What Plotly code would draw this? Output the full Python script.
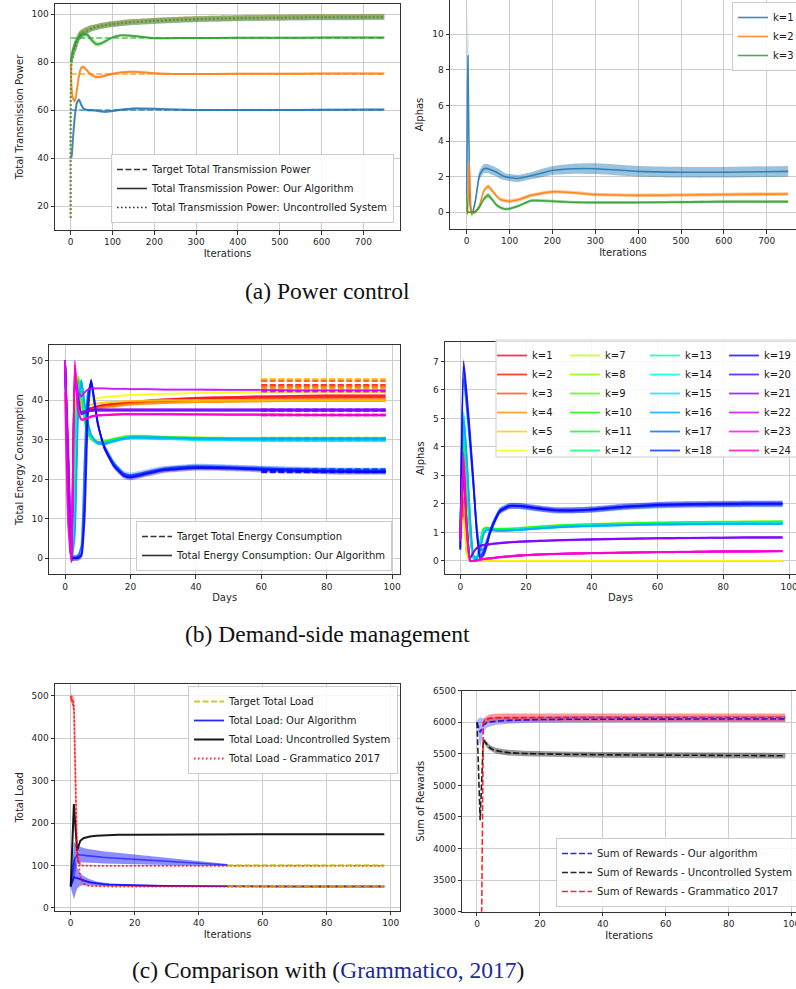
import plotly.graph_objects as go

# ======================= (a) Power control =======================
IT_POWER = [0, 2, 5, 10, 15, 20, 25, 30, 40, 50, 60, 70, 80, 90, 100, 120, 150, 200, 250, 300, 400, 500, 600, 750]
TARGET_POWER = [60, 75, 90]
POWER_OURS_K1 = [40, 40.5, 47, 57.5, 63, 64.3, 62.3, 60.8, 60.0, 59.9, 59.8, 59.5, 59.3, 59.4, 59.6, 60.1, 60.6, 60.5, 60.2, 60.0, 60.0, 60.0, 60.1, 60.2]
POWER_OURS_K2 = [79, 70, 65, 63.8, 68.5, 74.5, 77.5, 78.0, 76.3, 74.6, 73.8, 73.8, 74.2, 74.7, 75.1, 75.7, 76.0, 75.3, 75.0, 75.0, 75.1, 75.1, 75.2, 75.2]
POWER_OURS_K3 = [80, 82.5, 85, 87.5, 89.5, 90.5, 91.2, 91.6, 91.3, 89.2, 87.6, 87.6, 88.4, 89.4, 90.3, 91.2, 90.9, 89.9, 90.0, 90.0, 90.1, 90.1, 90.2, 90.2]
POWER_OURS_SPREAD_K1 = [0.5, 0.6, 0.8, 0.8, 0.7, 0.7, 0.6, 0.5, 0.5, 0.5, 0.5, 0.5, 0.5, 0.5, 0.5, 0.5, 0.5, 0.5, 0.4, 0.4, 0.4, 0.4, 0.4, 0.4]
POWER_OURS_SPREAD_K2 = [0.8, 1.2, 1.2, 1.0, 0.9, 0.8, 0.8, 0.7, 0.7, 0.7, 0.7, 0.6, 0.6, 0.6, 0.5, 0.5, 0.5, 0.5, 0.4, 0.4, 0.4, 0.4, 0.4, 0.4]
POWER_OURS_SPREAD_K3 = [1.0, 1.5, 2.0, 2.0, 2.0, 1.8, 1.5, 1.3, 1.2, 1.2, 1.2, 1.0, 0.8, 0.6, 0.5, 0.5, 0.5, 0.4, 0.4, 0.4, 0.4, 0.4, 0.4, 0.4]
POWER_UNCONTROLLED_K1 = [15, 79.8, 82.8, 85.8, 87.8, 90.6, 91.6, 92.3, 93.2, 94.0, 94.5, 94.9, 95.2, 95.5, 95.7, 96.1, 96.6, 97.1, 97.5, 97.8, 98.2, 98.4, 98.6, 98.7]
POWER_UNCONTROLLED_K2 = [15, 80.1, 83.1, 86.1, 88.1, 90.9, 91.9, 92.5, 93.4, 94.2, 94.7, 95.1, 95.4, 95.7, 95.9, 96.3, 96.8, 97.3, 97.7, 98.0, 98.4, 98.6, 98.8, 98.9]
POWER_UNCONTROLLED_K3 = [15, 80.0, 83.0, 86.0, 88.0, 90.8, 91.8, 92.4, 93.3, 94.1, 94.6, 95.0, 95.3, 95.6, 95.8, 96.2, 96.7, 97.2, 97.6, 97.9, 98.3, 98.5, 98.7, 98.8]
POWER_UNCONTROLLED_SPREAD = [0.5, 2.5, 2.5, 2.4, 2.2, 1.9, 1.7, 1.6, 1.4, 1.3, 1.2, 1.2, 1.2, 1.2, 1.2, 1.2, 1.2, 1.2, 1.2, 1.2, 1.2, 1.2, 1.2, 1.2]

IT_POWER_ALPHA = [0, 1, 2, 3, 4, 6, 8, 12, 20, 30, 40, 50, 60, 70, 80, 90, 100, 120, 150, 200, 250, 300, 400, 500, 600, 750]
ALPHA_POWER_K1 = [1.0, 4.0, 7.0, 8.8, 6.5, 2.5, 0.4, -0.1, 0.6, 2.1, 2.45, 2.45, 2.35, 2.25, 2.1, 2.0, 1.95, 1.9, 2.05, 2.35, 2.45, 2.45, 2.3, 2.25, 2.25, 2.3]
ALPHA_POWER_K2 = [0.3, -0.1, 0.0, 0.5, 1.5, 2.8, 1.2, -0.05, 0.0, 0.4, 1.2, 1.45, 1.2, 0.9, 0.7, 0.65, 0.62, 0.7, 0.95, 1.15, 1.1, 1.0, 0.95, 0.97, 1.0, 1.03]
ALPHA_POWER_K3 = [1.0, 0.3, 0.0, 0.0, 0.0, 0.0, 0.0, 0.0, 0.05, 0.3, 0.75, 0.95, 0.7, 0.4, 0.25, 0.18, 0.2, 0.35, 0.65, 0.62, 0.56, 0.55, 0.55, 0.57, 0.6, 0.6]
ALPHA_POWER_SPREAD_K1 = [0.1, 0.8, 1.8, 2.5, 1.5, 0.6, 0.2, 0.15, 0.2, 0.25, 0.25, 0.25, 0.25, 0.25, 0.25, 0.2, 0.2, 0.2, 0.2, 0.25, 0.28, 0.3, 0.3, 0.3, 0.3, 0.3]
ALPHA_POWER_SPREAD_K2 = [0.1, 0.2, 0.1, 0.2, 0.3, 0.3, 0.2, 0.1, 0.1, 0.1, 0.12, 0.12, 0.12, 0.1, 0.1, 0.1, 0.1, 0.1, 0.1, 0.1, 0.1, 0.1, 0.1, 0.1, 0.1, 0.1]
ALPHA_POWER_SPREAD_K3 = [0.05, 0.05, 0.05, 0.05, 0.05, 0.05, 0.05, 0.05, 0.08, 0.1, 0.12, 0.15, 0.12, 0.1, 0.08, 0.08, 0.08, 0.08, 0.08, 0.08, 0.08, 0.08, 0.08, 0.08, 0.08, 0.08]

# ======================= (b) Demand-side management =======================
DAYS = [0, 1, 2, 3, 4, 5, 6, 7, 8, 9, 10, 12, 15, 18, 20, 25, 30, 40, 50, 60, 70, 80, 90, 98]
TARGET_DAYS = [60, 98]
ENERGY_K1 = [50, 25, 0, 28, 45, 40, 37.5, 37.8, 38.0, 38.3, 38.5, 38.8, 39.1, 39.4, 39.6, 39.9, 40.2, 40.6, 40.8, 41.0, 41.1, 41.2, 41.2, 41.2]
ENERGY_K2 = [50, 24, -0.5, 30, 44, 39.5, 37.6, 37.8, 38.0, 38.2, 38.4, 38.7, 39.0, 39.3, 39.5, 39.8, 40.0, 40.3, 40.5, 40.6, 40.7, 40.8, 40.8, 40.8]
ENERGY_K3 = [50, 23, -1, 31, 43, 39, 37.2, 37.4, 37.6, 37.9, 38.1, 38.4, 38.7, 39.0, 39.2, 39.5, 39.7, 40.0, 40.1, 40.2, 40.3, 40.3, 40.3, 40.3]
ENERGY_K4 = [50, 22, -1, 30, 42, 38.5, 37.0, 37.2, 37.4, 37.6, 37.8, 38.1, 38.4, 38.7, 38.9, 39.1, 39.3, 39.5, 39.6, 39.7, 39.8, 39.8, 39.8, 39.8]
ENERGY_K5 = [50, 24, -0.5, 31, 44, 40, 38.5, 38.7, 38.9, 39.1, 39.2, 39.4, 39.6, 39.7, 39.8, 39.9, 40.0, 40.0, 40.0, 40.0, 40.0, 40.0, 40.0, 40.0]
ENERGY_K6 = [50, 26, 0, 32, 46, 41, 39.5, 39.8, 40.0, 40.3, 40.5, 40.8, 41.0, 41.2, 41.3, 41.5, 41.6, 41.8, 41.9, 42.0, 42.0, 42.0, 42.0, 42.0]
ENERGY_K7 = [50, 21, 0, 24, 46, 40, 34.5, 31.2, 30.1, 29.6, 29.4, 29.5, 30.2, 30.7, 30.9, 30.9, 30.7, 30.5, 30.4, 30.4, 30.4, 30.4, 30.4, 30.4]
ENERGY_K8 = [50, 21, 0, 22, 46, 40.5, 34.8, 31.4, 30.2, 29.6, 29.3, 29.4, 30.1, 30.6, 30.8, 30.8, 30.6, 30.4, 30.3, 30.3, 30.3, 30.3, 30.3, 30.3]
ENERGY_K9 = [50, 20, 0, 20, 46, 41, 35, 31.5, 30.2, 29.6, 29.3, 29.4, 30.1, 30.6, 30.8, 30.8, 30.6, 30.4, 30.3, 30.3, 30.3, 30.3, 30.3, 30.3]
ENERGY_K10 = [50, 20, 0, 18, 45, 42, 35.5, 32, 30.5, 29.8, 29.4, 29.5, 30.1, 30.6, 30.7, 30.7, 30.5, 30.3, 30.2, 30.2, 30.2, 30.2, 30.2, 30.2]
ENERGY_K11 = [50, 19, 0, 16, 44, 43, 36, 32.5, 30.6, 29.8, 29.3, 29.3, 29.9, 30.4, 30.6, 30.6, 30.4, 30.2, 30.1, 30.0, 30.0, 30.0, 30.0, 30.0]
ENERGY_K12 = [50, 19, -0.5, 14, 43, 44, 37, 33, 30.8, 29.8, 29.2, 29.2, 29.8, 30.3, 30.5, 30.5, 30.3, 30.1, 30.0, 29.9, 29.9, 29.9, 29.9, 29.9]
ENERGY_K13 = [50, 18, -0.5, 12, 42, 44.5, 37.5, 33, 30.6, 29.6, 29.1, 29.1, 29.8, 30.4, 30.6, 30.6, 30.4, 30.2, 30.1, 30.1, 30.1, 30.1, 30.1, 30.1]
ENERGY_K14 = [50, 18, -0.5, 10, 40, 45, 38, 33.5, 30.8, 29.7, 29.1, 29.0, 29.7, 30.3, 30.5, 30.5, 30.3, 30.1, 30.0, 30.0, 30.0, 30.0, 30.0, 30.0]
ENERGY_K15 = [50, 17, -0.5, 8, 38, 45, 38.5, 34, 31, 29.8, 29.1, 28.9, 29.6, 30.2, 30.4, 30.4, 30.2, 30.0, 29.9, 29.8, 29.8, 29.8, 29.8, 29.8]
ENERGY_K16 = [50, 17, -0.5, 6, 36, 45, 39, 34.5, 31.2, 30, 29.2, 29.0, 29.7, 30.3, 30.6, 30.6, 30.5, 30.3, 30.2, 30.2, 30.2, 30.2, 30.2, 30.2]
ENERGY_K17 = [50, 20, 0, 0, 0.5, 3, 25, 42, 44, 39, 34, 28.5, 24, 21.4, 21.0, 21.8, 22.6, 23.2, 23.0, 22.7, 22.5, 22.3, 22.2, 22.2]
ENERGY_K18 = [50, 20, 0, 0, 0, 1, 15, 40, 45, 39.5, 34, 28, 23.5, 21, 20.6, 21.5, 22.4, 23.0, 22.9, 22.6, 22.3, 22.1, 22.0, 22.0]
ENERGY_K19 = [50, 19, 0, 0, 0, 0.5, 10, 36, 45, 40, 34.5, 28, 23.2, 20.8, 20.4, 21.3, 22.2, 22.8, 22.7, 22.4, 22.1, 21.9, 21.8, 21.8]
ENERGY_K20 = [50, 24, 0, 44, 40, 36.5, 36.8, 37.1, 37.3, 37.4, 37.4, 37.4, 37.4, 37.4, 37.4, 37.4, 37.4, 37.4, 37.4, 37.4, 37.4, 37.4, 37.4, 37.4]
ENERGY_K21 = [50, 25, 0, 46, 41, 37, 37.2, 37.4, 37.6, 37.7, 37.7, 37.7, 37.7, 37.7, 37.7, 37.7, 37.7, 37.7, 37.7, 37.7, 37.7, 37.7, 37.7, 37.7]
ENERGY_K22 = [50, 28, 0, 48, 42, 41, 42, 42.7, 43.0, 43.0, 43.0, 43.0, 42.9, 42.9, 42.8, 42.8, 42.7, 42.7, 42.6, 42.6, 42.5, 42.5, 42.5, 42.5]
ENERGY_K23 = [50, 10, -1, 50, 38, 35.2, 35.3, 35.6, 35.9, 36.1, 36.2, 36.3, 36.4, 36.5, 36.5, 36.5, 36.5, 36.4, 36.4, 36.4, 36.3, 36.3, 36.3, 36.3]
ENERGY_K24 = [42, 8, -1, 49, 37, 35, 35.2, 35.5, 35.8, 36.0, 36.1, 36.2, 36.3, 36.4, 36.4, 36.4, 36.4, 36.4, 36.3, 36.3, 36.3, 36.2, 36.2, 36.2]
ENERGY_TARGET = [45.0, 43.8, 43.5, 43.2, 45.3, 42.2, 30.1, 30.4, 30.3, 30.2, 30.0, 29.9, 30.1, 30.0, 29.8, 30.2,
                 22.5, 22.0, 21.8, 37.4, 37.6, 42.3, 36.2, 36.3]
ENERGY_SPREAD = [0.25, 0.25, 0.25, 0.25, 0.25, 0.25, 0.4, 0.4, 0.4, 0.4, 0.4, 0.4, 0.4, 0.4, 0.4, 0.4,
                 0.7, 0.7, 0.7, 0.3, 0.3, 0.3, 0.3, 0.3]

ALPHA_K1 = [0.9, 1.8, 0.3, 0.0, 0.0, 0.0, 0.0, 0.0, 0.0, 0.0, 0.0, 0.0, 0.0, 0.0, 0.0, 0.0, 0.0, 0.0, 0.0, 0.0, 0.0, 0.0, 0.0, 0.0]
ALPHA_K2 = [0.8, 2.2, 0.4, 0.0, 0.0, 0.0, 0.0, 0.0, 0.0, 0.0, 0.0, 0.0, 0.0, 0.0, 0.0, 0.0, 0.0, 0.0, 0.0, 0.0, 0.0, 0.0, 0.0, 0.0]
ALPHA_K3 = [1.0, 2.5, 0.4, 0.0, 0.0, 0.0, 0.0, 0.0, 0.0, 0.0, 0.0, 0.0, 0.0, 0.0, 0.0, 0.0, 0.0, 0.0, 0.0, 0.0, 0.0, 0.0, 0.0, 0.0]
ALPHA_K4 = [0.9, 2.0, 0.3, 0.0, 0.0, 0.0, 0.0, 0.0, 0.0, 0.0, 0.0, 0.0, 0.0, 0.0, 0.0, 0.0, 0.0, 0.0, 0.0, 0.0, 0.0, 0.0, 0.0, 0.0]
ALPHA_K5 = [1.1, 2.8, 0.5, 0.0, 0.0, 0.0, 0.0, 0.0, 0.0, 0.0, 0.0, 0.0, 0.0, 0.0, 0.0, 0.0, 0.0, 0.0, 0.0, 0.0, 0.0, 0.0, 0.0, 0.0]
ALPHA_K6 = [0.8, 1.5, 0.2, 0.0, 0.0, 0.0, 0.0, 0.0, 0.0, 0.0, 0.0, 0.0, 0.0, 0.0, 0.0, 0.0, 0.0, 0.0, 0.0, 0.0, 0.0, 0.0, 0.0, 0.0]
ALPHA_K7 = [0.9, 3.6, 2.2, 0.8, 0.1, 0.1, 0.65, 1.12, 1.17, 1.15, 1.13, 1.12, 1.13, 1.15, 1.17, 1.21, 1.25, 1.29, 1.32, 1.34, 1.36, 1.37, 1.38, 1.38]
ALPHA_K8 = [0.9, 3.9, 2.4, 0.9, 0.1, 0.1, 0.62, 1.11, 1.16, 1.14, 1.12, 1.11, 1.12, 1.14, 1.16, 1.2, 1.24, 1.28, 1.31, 1.33, 1.35, 1.36, 1.37, 1.38]
ALPHA_K9 = [0.9, 4.2, 2.6, 1.0, 0.1, 0.1, 0.6, 1.1, 1.16, 1.14, 1.12, 1.11, 1.12, 1.14, 1.16, 1.2, 1.24, 1.28, 1.31, 1.33, 1.35, 1.36, 1.37, 1.38]
ALPHA_K10 = [0.9, 4.5, 2.9, 1.1, 0.1, 0.1, 0.6, 1.1, 1.15, 1.13, 1.11, 1.1, 1.11, 1.13, 1.15, 1.19, 1.23, 1.27, 1.3, 1.32, 1.34, 1.35, 1.36, 1.37]
ALPHA_K11 = [0.9, 4.8, 3.0, 1.2, 0.1, 0.1, 0.55, 1.08, 1.14, 1.12, 1.1, 1.09, 1.1, 1.12, 1.14, 1.18, 1.22, 1.26, 1.29, 1.31, 1.33, 1.34, 1.35, 1.36]
ALPHA_K12 = [0.9, 5.0, 3.2, 1.2, 0.1, 0.1, 0.5, 1.05, 1.13, 1.12, 1.1, 1.09, 1.1, 1.12, 1.14, 1.18, 1.22, 1.26, 1.29, 1.31, 1.33, 1.34, 1.35, 1.36]
ALPHA_K13 = [0.9, 5.2, 3.3, 1.3, 0.1, 0.1, 0.5, 1.02, 1.12, 1.11, 1.09, 1.08, 1.09, 1.11, 1.13, 1.17, 1.21, 1.25, 1.28, 1.3, 1.32, 1.33, 1.34, 1.35]
ALPHA_K14 = [0.9, 5.2, 3.4, 1.3, 0.1, 0.1, 0.45, 1.0, 1.12, 1.11, 1.09, 1.07, 1.08, 1.1, 1.12, 1.16, 1.2, 1.24, 1.27, 1.29, 1.31, 1.32, 1.32, 1.33]
ALPHA_K15 = [0.9, 5.1, 3.5, 1.4, 0.15, 0.1, 0.4, 0.95, 1.1, 1.1, 1.08, 1.06, 1.07, 1.09, 1.11, 1.15, 1.19, 1.23, 1.26, 1.28, 1.29, 1.3, 1.31, 1.31]
ALPHA_K16 = [0.9, 5.0, 3.6, 1.5, 0.2, 0.1, 0.35, 0.9, 1.08, 1.1, 1.08, 1.06, 1.07, 1.09, 1.11, 1.15, 1.19, 1.23, 1.26, 1.28, 1.29, 1.3, 1.3, 1.3]
ALPHA_K17 = [0.5, 6.4, 5.3, 4.0, 2.6, 1.2, 0.4, 0.4, 0.7, 1.05, 1.35, 1.78, 1.93, 1.92, 1.89, 1.81, 1.76, 1.79, 1.88, 1.94, 1.96, 1.97, 1.98, 1.98]
ALPHA_K18 = [0.4, 6.8, 5.6, 4.2, 2.7, 1.1, 0.2, 0.3, 0.6, 1.0, 1.3, 1.75, 1.93, 1.93, 1.9, 1.82, 1.77, 1.8, 1.9, 1.96, 1.98, 1.99, 2.0, 2.0]
ALPHA_K19 = [0.4, 7.0, 5.8, 4.4, 2.8, 1.0, 0.1, 0.2, 0.5, 0.95, 1.25, 1.72, 1.92, 1.93, 1.91, 1.83, 1.78, 1.81, 1.91, 1.97, 2.0, 2.01, 2.02, 2.02]
ALPHA_K20 = [0.8, 3.0, 1.2, 0.1, 0.3, 0.45, 0.52, 0.55, 0.57, 0.58, 0.6, 0.62, 0.65, 0.67, 0.68, 0.7, 0.72, 0.75, 0.77, 0.79, 0.8, 0.81, 0.82, 0.82]
ALPHA_K21 = [0.8, 3.2, 1.3, 0.1, 0.3, 0.46, 0.53, 0.56, 0.58, 0.59, 0.61, 0.63, 0.66, 0.68, 0.69, 0.71, 0.73, 0.76, 0.78, 0.8, 0.81, 0.82, 0.83, 0.83]
ALPHA_K22 = [0.9, 3.4, 1.0, 0.0, 0.0, 0.02, 0.04, 0.06, 0.08, 0.09, 0.1, 0.13, 0.16, 0.19, 0.2, 0.23, 0.25, 0.27, 0.29, 0.31, 0.32, 0.33, 0.33, 0.34]
ALPHA_K23 = [0.9, 3.8, 1.1, 0.0, 0.0, 0.02, 0.04, 0.06, 0.08, 0.09, 0.1, 0.13, 0.16, 0.19, 0.2, 0.23, 0.25, 0.27, 0.29, 0.31, 0.32, 0.33, 0.33, 0.34]
ALPHA_K24 = [0.7, 3.6, 1.0, 0.0, 0.0, 0.02, 0.04, 0.06, 0.08, 0.09, 0.1, 0.13, 0.16, 0.19, 0.2, 0.23, 0.25, 0.27, 0.29, 0.31, 0.32, 0.33, 0.34, 0.34]
ALPHA_SPREAD = [0.03, 0.03, 0.03, 0.03, 0.03, 0.03, 0.05, 0.05, 0.05, 0.05, 0.05, 0.05, 0.05, 0.05, 0.05, 0.05,
                0.1, 0.1, 0.1, 0.04, 0.04, 0.04, 0.04, 0.04]

# ======================= (c) Comparison with Grammatico 2017 =======================
IT_LOAD = [0, 1, 2, 3, 4, 5, 6, 8, 10, 12, 15, 20, 25, 30, 40, 49, 60, 70, 80, 90, 98]
IT_LOAD_OURS_HIGH = [0, 1, 2, 3, 4, 5, 6, 8, 10, 12, 15, 20, 25, 30, 40, 49]
TARGET_LOAD = [100, 50]
TARGET_ITERS = [49, 98]
LOAD_OURS_HIGH = [50, 110, 125, 125, 124, 123, 122, 120.5, 119, 118, 116.5, 114, 111.5, 109, 104.5, 101]
LOAD_OURS_HIGH_SPREAD = [2, 45, 22, 18, 17, 16, 15.5, 15, 14.5, 14, 13, 11, 9.5, 8, 5, 2]
LOAD_OURS_LOW = [50, 72, 70, 67, 64, 62, 60, 57, 55.5, 54.5, 53.5, 52.5, 51.8, 51.3, 50.6, 50.3, 50.1, 50.0, 50.0, 50.0, 50.0]
LOAD_OURS_LOW_SPREAD = [2, 52, 25, 15, 11, 9, 7, 5, 4, 3.5, 3, 2.5, 2, 1.5, 1, 0.8, 0.5, 0.5, 0.5, 0.5, 0.5]
LOAD_UNCONTROLLED = [50, 245, 135, 158, 164, 166.5, 168, 169.8, 170.8, 171.4, 172, 172.5, 172.8, 173, 173.2, 173.3, 173.4, 173.5, 173.5, 173.6, 173.6]
LOAD_GRAMMATICO_HIGH = [500, 475, 118, 101, 99.2, 98.9, 98.8, 98.8, 98.8, 98.8, 98.8, 98.8, 98.8, 98.8, 98.8, 98.8, 98.8, 98.8, 98.8, 98.8, 98.8]
LOAD_GRAMMATICO_LOW = [495, 485, 140, 72, 57, 52.5, 51.2, 50.5, 50.2, 50.1, 50.0, 50.0, 50.0, 50.0, 50.0, 50.0, 50.0, 50.0, 50.0, 50.0, 50.0]
LOAD_GRAMMATICO_SPREAD = [8, 15, 10, 3, 1.5, 1.2, 1.2, 1.2, 1.2, 1.2, 1.2, 1.2, 1.2, 1.2, 1.2, 1.2, 1.2, 1.2, 1.2, 1.2, 1.2]

IT_REWARD = [0, 1, 2, 3, 4, 5, 6, 8, 10, 15, 20, 30, 40, 60, 80, 98]
REWARD_OURS = [6000, 5840, 5950, 5990, 6005, 6012, 6018, 6025, 6030, 6038, 6043, 6048, 6050, 6052, 6053, 6053]
REWARD_OURS_SPREAD = [30, 240, 110, 80, 70, 65, 60, 55, 52, 50, 50, 50, 50, 50, 50, 50]
REWARD_UNCONTROLLED = [6000, 4450, 5720, 5650, 5600, 5570, 5552, 5532, 5520, 5505, 5497, 5490, 5485, 5478, 5473, 5470]
REWARD_UNCONTROLLED_SPREAD = [10, 20, 40, 45, 45, 45, 45, 45, 45, 45, 45, 45, 45, 45, 45, 45]
REWARD_GRAMMATICO = [-2000, 0, 6000, 6045, 6062, 6070, 6072, 6074, 6075, 6075, 6075, 6075, 6075, 6075, 6075, 6075]
REWARD_GRAMMATICO_SPREAD = [0, 0, 40, 55, 60, 62, 64, 65, 65, 65, 65, 65, 65, 65, 65, 65]

# ticks
TICKS_IT750 = [0, 100, 200, 300, 400, 500, 600, 700]
TICKS_100 = [0, 20, 40, 60, 80, 100]
TICKS_POWER = [20, 40, 60, 80, 100]
TICKS_ALPHA_POWER = [0, 2, 4, 6, 8, 10]
TICKS_ENERGY = [0, 10, 20, 30, 40, 50]
TICKS_ALPHA_DSM = [0, 1, 2, 3, 4, 5, 6, 7]
TICKS_LOAD = [0, 100, 200, 300, 400, 500]
TICKS_REWARD = [3000, 3500, 4000, 4500, 5000, 5500, 6000, 6500]

# ---------------------------------------------------------------
W, H = 796, 989
FONT = "DejaVu Sans"
TXT = "#262626"
GRID = "#cdcdcd"
SPINE = "#333333"

TAB = ["31,119,180", "255,127,14", "44,160,44"]

GR = [(0.000, (1.00, 0.00, 0.16)), (0.030, (1.00, 0.00, 0.00)), (0.215, (1.00, 1.00, 0.00)),
      (0.400, (0.00, 1.00, 0.00)), (0.586, (0.00, 1.00, 1.00)), (0.770, (0.00, 0.00, 1.00)),
      (0.954, (1.00, 0.00, 1.00)), (1.000, (1.00, 0.00, 0.75))]


def gist_rainbow(t):
    for (t0, c0), (t1, c1) in zip(GR[:-1], GR[1:]):
        if t0 <= t <= t1:
            f = (t - t0) / (t1 - t0)
            return tuple(int(round(255 * (a + (b - a) * f))) for a, b in zip(c0, c1))
    return tuple(int(255 * v) for v in GR[-1][1])


def rgba(rgb, a):
    return f"rgba({rgb},{a})"


fig = go.Figure()


def add_line(x, y, ax, color, width=1.6, dash=None, shape="spline", smoothing=0.7,
             name=None, legend="legend", showlegend=False, rank=None):
    fig.add_trace(go.Scatter(
        x=x, y=y, xaxis="x" + ax, yaxis="y" + ax, mode="lines",
        line=dict(color=color, width=width, dash=dash, shape=shape,
                  smoothing=smoothing if shape == "spline" else None),
        name=name, legend=legend, showlegend=showlegend, hoverinfo="skip",
        legendrank=rank))


def add_band(x, mid, spread, ax, fill, shape="spline", smoothing=0.7):
    lo = [m - s for m, s in zip(mid, spread)]
    hi = [m + s for m, s in zip(mid, spread)]
    sm = smoothing if shape == "spline" else None
    fig.add_trace(go.Scatter(x=x, y=lo, xaxis="x" + ax, yaxis="y" + ax, mode="lines",
                             line=dict(width=0, shape=shape, smoothing=sm, color=fill),
                             showlegend=False, hoverinfo="skip"))
    fig.add_trace(go.Scatter(x=x, y=hi, xaxis="x" + ax, yaxis="y" + ax, mode="lines",
                             line=dict(width=0, shape=shape, smoothing=sm, color=fill),
                             fill="tonexty", fillcolor=fill, showlegend=False, hoverinfo="skip"))


DASH = "6px,2.5px"
DOT = "1.6px,2.4px"

# ---------------- panel a-left ----------------
ours = [POWER_OURS_K1, POWER_OURS_K2, POWER_OURS_K3]
ours_sp = [POWER_OURS_SPREAD_K1, POWER_OURS_SPREAD_K2, POWER_OURS_SPREAD_K3]
unc = [POWER_UNCONTROLLED_K1, POWER_UNCONTROLLED_K2, POWER_UNCONTROLLED_K3]
for i in range(3):
    add_line([IT_POWER[0], IT_POWER[-1]], [TARGET_POWER[i]] * 2, "", rgba(TAB[i], 0.75), 1.6, DASH, "linear")
    add_band(IT_POWER, ours[i], ours_sp[i], "", rgba(TAB[i], 0.3))
    add_line(IT_POWER, ours[i], "", rgba(TAB[i], 0.85), 2.0)
    add_band(IT_POWER, unc[i], POWER_UNCONTROLLED_SPREAD, "", rgba(TAB[i], 0.35))
    add_line(IT_POWER, unc[i], "", rgba(TAB[i], 0.7), 2.0, DOT)
add_line([None], [None], "", SPINE, 1.6, DASH, name="Target Total Transmission Power", showlegend=True)
add_line([None], [None], "", SPINE, 1.6, None, name="Total Transmission Power: Our Algorithm", showlegend=True)
add_line([None], [None], "", SPINE, 1.6, DOT, name="Total Transmission Power: Uncontrolled System", showlegend=True)

# ---------------- panel a-right ----------------
al = [ALPHA_POWER_K1, ALPHA_POWER_K2, ALPHA_POWER_K3]
al_sp = [ALPHA_POWER_SPREAD_K1, ALPHA_POWER_SPREAD_K2, ALPHA_POWER_SPREAD_K3]
for i in range(3):
    add_band(IT_POWER_ALPHA, al[i], al_sp[i], "2", rgba(TAB[i], 0.45), smoothing=0.5)
    add_line(IT_POWER_ALPHA, al[i], "2", rgba(TAB[i], 0.85), 1.6, smoothing=0.5,
             name=f"k={i + 1}", legend="legend2", showlegend=True)

# ---------------- panel b ----------------
energies = [ENERGY_K1, ENERGY_K2, ENERGY_K3, ENERGY_K4, ENERGY_K5, ENERGY_K6, ENERGY_K7, ENERGY_K8,
            ENERGY_K9, ENERGY_K10, ENERGY_K11, ENERGY_K12, ENERGY_K13, ENERGY_K14, ENERGY_K15, ENERGY_K16,
            ENERGY_K17, ENERGY_K18, ENERGY_K19, ENERGY_K20, ENERGY_K21, ENERGY_K22, ENERGY_K23, ENERGY_K24]
alphas = [ALPHA_K1, ALPHA_K2, ALPHA_K3, ALPHA_K4, ALPHA_K5, ALPHA_K6, ALPHA_K7, ALPHA_K8,
          ALPHA_K9, ALPHA_K10, ALPHA_K11, ALPHA_K12, ALPHA_K13, ALPHA_K14, ALPHA_K15, ALPHA_K16,
          ALPHA_K17, ALPHA_K18, ALPHA_K19, ALPHA_K20, ALPHA_K21, ALPHA_K22, ALPHA_K23, ALPHA_K24]
n = len(energies)
for i in range(n):
    r, g, b = gist_rainbow(i / (n - 1))
    rgb = f"{r},{g},{b}"
    add_band(DAYS, energies[i], [ENERGY_SPREAD[i]] * len(DAYS), "3", rgba(rgb, 0.3), smoothing=0.5)
    add_line(DAYS, energies[i], "3", rgba(rgb, 0.85), 1.8, smoothing=0.5)
    add_line(TARGET_DAYS, [ENERGY_TARGET[i]] * 2, "3", rgba(rgb, 0.85), 2.6, DASH, "linear")
for i in range(n):
    r, g, b = gist_rainbow(i / (n - 1))
    rgb = f"{r},{g},{b}"
    add_band(DAYS, alphas[i], [ALPHA_SPREAD[i]] * len(DAYS), "4", rgba(rgb, 0.3), smoothing=0.5)
    add_line(DAYS, alphas[i], "4", rgba(rgb, 0.8), 1.8, smoothing=0.5,
             name=f"k={i + 1}", legend=f"legend{4 + i // 6}", showlegend=True)
add_line([None], [None], "3", SPINE, 1.6, DASH, name="Target Total Energy Consumption", legend="legend3", showlegend=True)
add_line([None], [None], "3", SPINE, 1.6, None, name="Total Energy Consumption: Our Algorithm", legend="legend3", showlegend=True)

# ---------------- panel c-left ----------------
BLUE, BLACK, RED, YEL = "0,0,255", "0,0,0", "255,0,0", "191,191,0"
add_band(IT_LOAD_OURS_HIGH, LOAD_OURS_HIGH, LOAD_OURS_HIGH_SPREAD, "5", rgba(BLUE, 0.45), "linear")
add_line(IT_LOAD_OURS_HIGH, LOAD_OURS_HIGH, "5", rgba(BLUE, 0.6), 1.6, shape="linear")
add_band(IT_LOAD, LOAD_OURS_LOW, LOAD_OURS_LOW_SPREAD, "5", rgba(BLUE, 0.45), "linear")
add_line(IT_LOAD, LOAD_OURS_LOW, "5", rgba(BLUE, 0.85), 1.8, shape="linear",
         name="Total Load: Our Algorithm", legend="legend8", showlegend=True, rank=2)
add_line(IT_LOAD, LOAD_UNCONTROLLED, "5", rgba(BLACK, 0.9), 2.0, shape="linear",
         name="Total Load: Uncontrolled System", legend="legend8", showlegend=True, rank=3)
add_band(IT_LOAD, LOAD_GRAMMATICO_HIGH, LOAD_GRAMMATICO_SPREAD, "5", rgba(RED, 0.3), "linear")
add_band(IT_LOAD, LOAD_GRAMMATICO_LOW, LOAD_GRAMMATICO_SPREAD, "5", rgba(RED, 0.3), "linear")
add_line(IT_LOAD, LOAD_GRAMMATICO_HIGH, "5", rgba(RED, 0.8), 1.8, DOT, "linear")
add_line(IT_LOAD, LOAD_GRAMMATICO_LOW, "5", rgba(RED, 0.8), 1.8, DOT, "linear",
         name="Total Load - Grammatico 2017", legend="legend8", showlegend=True, rank=4)
for j, t in enumerate(TARGET_LOAD):
    add_line(TARGET_ITERS, [t, t], "5", rgba(YEL, 0.8), 2.2, DASH, "linear",
             name="Target Total Load", legend="legend8", showlegend=(j == 0), rank=1)

# ---------------- panel c-right ----------------
add_band(IT_REWARD, REWARD_OURS, REWARD_OURS_SPREAD, "6", rgba(BLUE, 0.3), "linear")
add_band(IT_REWARD, REWARD_UNCONTROLLED, REWARD_UNCONTROLLED_SPREAD, "6", rgba(BLACK, 0.4), "linear")
add_band(IT_REWARD, REWARD_GRAMMATICO, REWARD_GRAMMATICO_SPREAD, "6", rgba(RED, 0.4), "linear")
add_line(IT_REWARD, REWARD_OURS, "6", rgba(BLUE, 0.85), 1.6, DASH, "linear",
         name="Sum of Rewards - Our algorithm", legend="legend9", showlegend=True, rank=1)
add_line(IT_REWARD, REWARD_UNCONTROLLED, "6", rgba(BLACK, 0.85), 1.6, DASH, "linear",
         name="Sum of Rewards - Uncontrolled System", legend="legend9", showlegend=True, rank=2)
add_line(IT_REWARD, REWARD_GRAMMATICO, "6", rgba(RED, 0.85), 1.6, DASH, "linear",
         name="Sum of Rewards - Grammatico 2017", legend="legend9", showlegend=True, rank=3)


# ---------------- axes ----------------
def xdom(a, b):
    return [a / W, min(b / W, 1.0)]


def ydom(top, bottom):
    return [max(1 - bottom / H, 0.0), min(1 - top / H, 1.0)]


def axes(suffix, xd, yd, xr, yr, xt, yt, xtitle, ytitle, xmirror, ymirror, ystand):
    common = dict(ticks="outside", ticklen=3.5, tickwidth=0.8, tickcolor=SPINE,
                  showgrid=True, gridcolor=GRID, gridwidth=0.9, zeroline=False,
                  showline=True, linecolor=SPINE, linewidth=1, automargin=False,
                  ticklabeloverflow="allow",
                  tickfont=dict(family=FONT, size=9, color=TXT))
    fig.layout["xaxis" + suffix] = dict(
        common, domain=xd, range=xr, tickvals=xt, mirror=xmirror,
        anchor="y" + suffix, title=dict(text=xtitle, font=dict(family=FONT, size=10, color=TXT), standoff=3))
    fig.layout["yaxis" + suffix] = dict(
        common, domain=yd, range=yr, tickvals=yt, mirror=ymirror,
        anchor="x" + suffix, title=dict(text=ytitle, font=dict(family=FONT, size=10, color=TXT), standoff=ystand))


axes("", xdom(55, 400), ydom(4, 230), [-37.5, 787.5], [10, 104.2], TICKS_IT750, TICKS_POWER,
     "Iterations", "Total Transmission Power", True, True, 6)
axes("2", xdom(450, 796), ydom(0, 229), [-39, 768.3], [-0.94, 11.93], TICKS_IT750, TICKS_ALPHA_POWER,
     "Iterations", "Alphas", False, False, 6)
axes("3", xdom(49.3, 400), ydom(345, 574.3), [-4.8, 102.4], [-4.13, 54], TICKS_100, TICKS_ENERGY,
     "Days", "Total Energy Consumption", True, True, 6)
axes("4", xdom(445, 796), ydom(342, 574.3), [-4.65, 102.1], [-0.47, 7.68], TICKS_100, TICKS_ALPHA_DSM,
     "Days", "Alphas", True, False, 6)
axes("5", xdom(55, 400), ydom(684, 910.7), [-4.9, 102.9], [-7.1, 528.3], TICKS_100, TICKS_LOAD,
     "Iterations", "Total Load", True, True, 6)
axes("6", xdom(462.3, 796), ydom(690.7, 911.7), [-4.67, 101.4], [3000, 6500], TICKS_100, TICKS_REWARD,
     "Iterations", "Sum of Rewards", True, False, 6)

LEG = dict(font=dict(family=FONT, size=10, color="#1a1a1a"), bgcolor="rgba(255,255,255,0.85)",
           bordercolor="#cccccc", borderwidth=1, itemwidth=30, tracegroupgap=0, traceorder="normal",
           orientation="v", xref="paper", yref="paper", xanchor="left")
CLEAR = dict(bgcolor="rgba(0,0,0,0)", borderwidth=0)

fig.update_layout(
    width=W, height=H, margin=dict(l=0, r=0, t=0, b=0, pad=0, autoexpand=False),
    paper_bgcolor="white", plot_bgcolor="white", font=dict(family=FONT, color=TXT),
    legend=dict(LEG, x=111 / W, y=1 - 223 / H, yanchor="bottom"),
    legend2=dict(LEG, x=732 / W, y=1 - 2 / H, yanchor="top"),
    legend3=dict(LEG, x=136 / W, y=1 - 571 / H, yanchor="bottom"),
    legend4=dict(LEG, x=492 / W, y=1 - 341 / H, yanchor="top", **CLEAR),
    legend5=dict(LEG, x=565 / W, y=1 - 341 / H, yanchor="top", **CLEAR),
    legend6=dict(LEG, x=645 / W, y=1 - 341 / H, yanchor="top", **CLEAR),
    legend7=dict(LEG, x=724 / W, y=1 - 341 / H, yanchor="top", **CLEAR),
    legend8=dict(LEG, x=188 / W, y=1 - 686 / H, yanchor="top"),
    legend9=dict(LEG, x=556 / W, y=1 - 907 / H, yanchor="bottom"),
    showlegend=True,
)

# frame behind the 4-column legend of panel b-right
fig.add_shape(type="rect", xref="paper", yref="paper", x0=496 / W, x1=1.01, y0=1 - 457 / H, y1=1 - 340 / H,
              fillcolor="rgba(255,255,255,0.85)", line=dict(color="#cccccc", width=1), layer="above")

CAP = dict(family="Liberation Serif", size=23.5, color="#111111")
fig.add_annotation(text="(a) Power control", x=327 / W, y=1 - 291 / H, xref="paper", yref="paper",
                   showarrow=False, font=CAP, xanchor="center", yanchor="middle")
fig.add_annotation(text="(b) Demand-side management", x=327 / W, y=1 - 634 / H, xref="paper", yref="paper",
                   showarrow=False, font=CAP, xanchor="center", yanchor="middle")
fig.add_annotation(text="(c) Comparison with (<span style='color:#1c2a9c'>Grammatico, 2017</span>)",
                   x=328 / W, y=1 - 970 / H, xref="paper", yref="paper",
                   showarrow=False, font=CAP, xanchor="center", yanchor="middle")

fig.write_html("out.html", config={"displayModeBar": False},
               post_script="document.body.style.margin='0px';document.body.style.overflow='hidden';")
